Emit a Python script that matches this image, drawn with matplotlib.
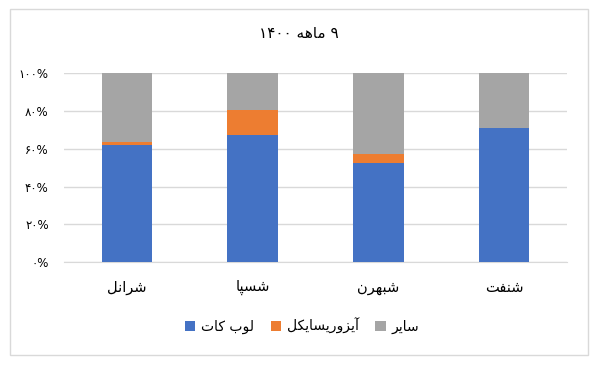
import matplotlib
matplotlib.use("Agg")
import matplotlib.pyplot as plt
from matplotlib.patches import Rectangle

# ---------------- data ----------------
categories = ["شرانل", "شسپا", "شبهرن", "شنفت"]
lubcut = [62.0, 67.3, 52.6, 71.0]
isorecycle = [1.5, 13.2, 4.7, 0.0]
other = [36.5, 19.5, 42.7, 29.0]
series_names = ["لوب کات", "آیزوریسایکل", "سایر"]
ytick_vals = [0, 20, 40, 60, 80, 100]
ytick_labels = ["۰%", "۲۰%", "۴۰%", "۶۰%", "۸۰%", "۱۰۰%"]
title_num = "۱۴۰۰"
title_word = "ماهه"
title_pre = "۹"

# ------------- minimal Persian shaping -------------
FORMS = {  # isolated, final, initial, medial
    "ا": ("\uFE8D", "\uFE8E", None, None),
    "آ": ("\uFE81", "\uFE82", None, None),
    "ب": ("\uFE8F", "\uFE90", "\uFE91", "\uFE92"),
    "پ": ("\uFB56", "\uFB57", "\uFB58", "\uFB59"),
    "ت": ("\uFE95", "\uFE96", "\uFE97", "\uFE98"),
    "ر": ("\uFEAD", "\uFEAE", None, None),
    "ز": ("\uFEAF", "\uFEB0", None, None),
    "س": ("\uFEB1", "\uFEB2", "\uFEB3", "\uFEB4"),
    "ش": ("\uFEB5", "\uFEB6", "\uFEB7", "\uFEB8"),
    "ف": ("\uFED1", "\uFED2", "\uFED3", "\uFED4"),
    "ک": ("\uFB8E", "\uFB8F", "\uFB90", "\uFB91"),
    "ل": ("\uFEDD", "\uFEDE", "\uFEDF", "\uFEE0"),
    "م": ("\uFEE1", "\uFEE2", "\uFEE3", "\uFEE4"),
    "ن": ("\uFEE5", "\uFEE6", "\uFEE7", "\uFEE8"),
    "ه": ("\uFEE9", "\uFEEA", "\uFEEB", "\uFEEC"),
    "و": ("\uFEED", "\uFEEE", None, None),
    "ی": ("\uFBFC", "\uFBFD", "\uFBFE", "\uFBFF"),
}


def dual(c):
    return c in FORMS and FORMS[c][2] is not None


def shape(s):
    out = []
    for i, c in enumerate(s):
        if c not in FORMS:
            out.append(c)
            continue
        prev_j = i > 0 and dual(s[i - 1])
        next_j = dual(c) and i + 1 < len(s) and s[i + 1] in FORMS
        f = FORMS[c]
        if prev_j and next_j:
            g = f[3]
        elif prev_j:
            g = f[1]
        elif next_j:
            g = f[2]
        else:
            g = f[0]
        out.append(g)
    return "".join(reversed(out))


plt.rcParams["font.family"] = ["DejaVu Sans"]

blue = "#4472C4"
orange = "#ED7D31"
gray = "#A5A5A5"
grid_c = "#D9D9D9"

fig = plt.figure(figsize=(5.98, 3.65), dpi=100)
fig.patches.append(Rectangle((10 / 598, 1 - 355 / 365), 578 / 598, 346 / 365,
                             transform=fig.transFigure, fill=False,
                             edgecolor=grid_c, linewidth=1.0))
ax = fig.add_axes([64 / 598, 1 - 262 / 365, 503 / 598, (262 - 73.3) / 365])

x = list(range(len(categories)))
w = 0.4
ax.bar(x, lubcut, w, color=blue, label=shape(series_names[0]), zorder=3)
ax.bar(x, isorecycle, w, bottom=lubcut, color=orange,
       label=shape(series_names[1]), zorder=3)
bottom2 = [a + b for a, b in zip(lubcut, isorecycle)]
ax.bar(x, other, w, bottom=bottom2, color=gray,
       label=shape(series_names[2]), zorder=3)

ax.set_xlim(-0.5, len(categories) - 0.5)
ax.set_ylim(0, 100)
ax.set_yticks(ytick_vals)
ax.set_yticklabels(ytick_labels, fontsize=8.5, color="#000000")
ax.set_xticks(x)
ax.set_xticklabels([shape(c) for c in categories], fontsize=10.5)
ax.tick_params(axis="both", length=0)
ax.tick_params(axis="y", pad=11)
ax.tick_params(axis="x", pad=13)
ax.yaxis.grid(True, color=grid_c, linewidth=1.0, zorder=0)
for side in ["top", "right", "left"]:
    ax.spines[side].set_visible(False)
ax.spines["bottom"].set_color(grid_c)

fig.text(0.5, 1 - 33 / 365, title_num + " " + shape(title_word) + " " + title_pre,
         ha="center", va="center", fontsize=11)

fig.legend(loc="center", bbox_to_anchor=(302 / 598, 1 - 326 / 365), ncol=3,
           frameon=False, fontsize=10, handlelength=0.75, handleheight=0.75,
           handletextpad=0.4, columnspacing=1.2)

fig.savefig("out.png", dpi=100)
